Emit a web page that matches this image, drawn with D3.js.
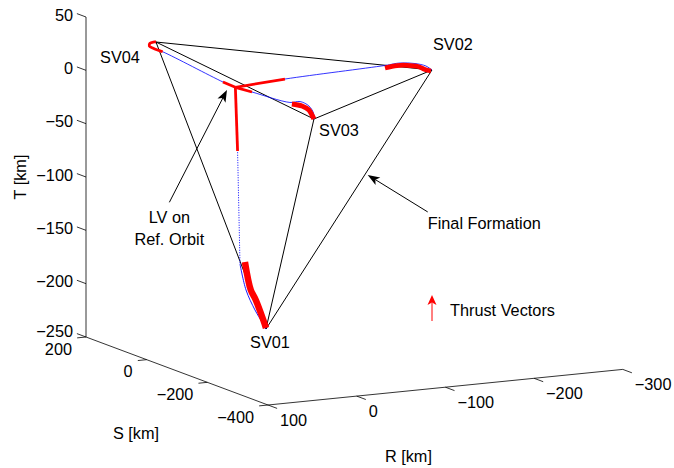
<!DOCTYPE html>
<html>
<head>
<meta charset="utf-8">
<script src="https://cdn.jsdelivr.net/npm/d3@7"></script>
<style>
  body { margin: 0; background: #fff; }
  text { font-family: "Liberation Sans", Arial, Helvetica, sans-serif; font-size: 16.3px; fill: #000; }
</style>
</head>
<body>
<svg id="chart" width="674" height="468"></svg>
<script>
// axis ticks
var rTicks = [100, 0, -100, -200, -300];
var sTicks = [200, 0, -200, -400];
var tTicks = [50, 0, -50, -100, -150, -200, -250];

// launch vehicle and final spacecraft positions, [R, S, T] in km
var lvPos = [0, 0, -3];
var svNames = ["SV01", "SV02", "SV03", "SV04"];
var svPos = [
  [-34.5, 0, -232.5],
  [-221.6, 0, -5.3],
  [-37.3, -150, -19.9],
  [38.2, 150, 26.7]
];

// transfer trajectories from the LV to each SV
var path01 = [[0, 0, -3], [-2.5, 0, -62.9], [-5.2, 0, -169.1], [-12.0, 0, -194.0],
  [-22.1, 0, -213.6], [-30.0, 0, -225.5], [-34.5, 0, -232.5]];
var path02 = [[0, 0, -3], [-55.9, 0, 0.1], [-168.7, 0, 3.4], [-185.5, 0, 4.3],
  [-202.5, 0, 2.4], [-214.9, 0, -1.0], [-221.6, 0, -5.3]];
var path03 = [[0, 0, -3], [-7.9, -31.7, -4.7], [-25.9, -104.2, -8.3], [-30.7, -123.3, -5.8],
  [-34.9, -140.5, -8.5], [-37.1, -149.0, -14.4], [-37.3, -150, -19.9]];
var path04 = [[0, 0, -3], [6.5, 22, 0.2], [34.1, 140, 18.3], [43.0, 145, 21.8],
  [46.8, 147, 24.0], [45.5, 148.5, 26.3], [41.4, 149.5, 27.0], [38.2, 150, 26.7]];

// thrust arcs (where the thrust vectors are drawn)
var thrust01a = [[0, 0, -3], [-2.5, 0, -62.9]];
var thrust01b = [[-10.8, 0, -167.6], [-17.4, 0, -194.5], [-23.0, 0, -204.3],
  [-31.5, 0, -223.8], [-34.5, 0, -231.5]];
var thrust02a = [[0, 0, -3], [-55.9, 0, 0.1]];
var thrust02b = [[-168.7, 0, 1.0], [-182.2, 0, 2.2], [-193.5, 0, 1.5],
  [-205.9, 0, -0.7], [-213.8, 0, -4.2], [-220.5, 0, -6.1]];
var thrust03a = [[0, 0, -3], [-7.9, -31.7, -4.7]];
var thrust03b = [[-26.8, -108, -9.4], [-31.7, -127, -9.7], [-34.9, -140.5, -12.3],
  [-36.6, -147.1, -17.3], [-37.3, -150, -19.9]];
var thrust04a = [[0, 0, -3], [6.5, 22, 0.2]];
var thrust04b = [[34.1, 140, 18.3], [43.0, 145, 21.8], [46.8, 147, 24.0],
  [45.5, 148.5, 26.3], [41.4, 149.5, 27.0], [38.2, 150, 26.7]];

var svg = d3.select("#chart");

// orthographic view: each data axis adds its own screen offset
var rx = d3.scaleLinear().domain([100, -300]).range([268, 622.8]);
var ry = d3.scaleLinear().domain([100, -300]).range([405, 369.4]);
var sx = d3.scaleLinear().domain([-400, 200]).range([0, -182]);
var sy = d3.scaleLinear().domain([-400, 200]).range([0, -68]);
var ty = d3.scaleLinear().domain([-250, 50]).range([0, -320]);

function proj(p) {
  return [rx(p[0]) + sx(p[1]), ry(p[0]) + sy(p[1]) + ty(p[2])];
}

var line3 = d3.line()
  .x(function (d) { return proj(d)[0]; })
  .y(function (d) { return proj(d)[1]; });

var curve3 = d3.line()
  .x(function (d) { return proj(d)[0]; })
  .y(function (d) { return proj(d)[1]; })
  .curve(d3.curveCatmullRom);

function seg(a, b, color, w) {
  return svg.append("path")
    .attr("d", line3([a, b]))
    .attr("fill", "none")
    .attr("stroke", color)
    .attr("stroke-width", w);
}

function minus(v) {
  return String(v).replace("-", "\u2212");
}

/**
 * Arrow with a notched filled head, screen coordinates.
 */
function arrow(tail, tip, color, len, half) {
  var dx = tip[0] - tail[0], dy = tip[1] - tail[1];
  var L = Math.sqrt(dx * dx + dy * dy);
  var ux = dx / L, uy = dy / L, px = -uy, py = ux;
  var bx = tip[0] - ux * len, by = tip[1] - uy * len;
  var nx = tip[0] - ux * len * 0.75, ny = tip[1] - uy * len * 0.75;
  svg.append("line")
    .attr("x1", tail[0]).attr("y1", tail[1])
    .attr("x2", nx).attr("y2", ny)
    .attr("stroke", color).attr("stroke-width", 1);
  svg.append("path")
    .attr("d", "M" + tip[0] + "," + tip[1] +
      "L" + (bx + px * half) + "," + (by + py * half) +
      "L" + nx + "," + ny +
      "L" + (bx - px * half) + "," + (by - py * half) + "Z")
    .attr("fill", color);
}

// axes
var axes = svg.append("g").attr("stroke", "#000").attr("stroke-width", 0.8).attr("fill", "none");
axes.append("path").attr("d", line3([[100, 200, -250], [100, 200, 50]]));
axes.append("path").attr("d", line3([[100, 200, -250], [100, -400, -250]]));
axes.append("path").attr("d", line3([[100, -400, -250], [-300, -400, -250]]));

tTicks.forEach(function (t) {
  axes.append("path").attr("d", line3([[100, 200, t], [100, 230, t]]));
  var p = proj([100, 200, t]);
  // lowest label sits a little higher so it clears the S-axis "200"
  var up = t === -250 ? 6 : 2;
  svg.append("text").attr("x", p[0] - 13).attr("y", p[1] - up).attr("dy", "0.35em")
    .attr("text-anchor", "end").text(minus(t));
});
sTicks.forEach(function (s) {
  axes.append("path").attr("d", line3([[100, s, -250], [110, s, -250]]));
  var p = proj([100, s, -250]);
  svg.append("text").attr("x", p[0] - 14).attr("y", p[1] + 12).attr("dy", "0.35em")
    .attr("text-anchor", "end").text(minus(s));
});
rTicks.forEach(function (r) {
  axes.append("path").attr("d", line3([[r, -400, -250], [r, -430, -250]]));
  var p = proj([r, -400, -250]);
  svg.append("text").attr("x", p[0] + 12).attr("y", p[1] + 15).attr("dy", "0.35em")
    .attr("text-anchor", "start").text(minus(r));
});

var tMid = proj([100, 200, -100]);
svg.append("text")
  .attr("transform", "translate(" + (tMid[0] - 65.5) + "," + tMid[1] + ") rotate(-90)")
  .attr("dy", "0.35em").attr("text-anchor", "middle").text("T [km]");
var sMid = proj([100, -100, -250]);
svg.append("text").attr("x", sMid[0] - 41).attr("y", sMid[1] + 62).attr("dy", "0.35em")
  .attr("text-anchor", "middle").text("S [km]");
var rMid = proj([-100, -400, -250]);
svg.append("text").attr("x", rMid[0] - 37).attr("y", rMid[1] + 69).attr("dy", "0.35em")
  .attr("text-anchor", "middle").text("R [km]");

// final formation: every pair of spacecraft joined
for (var i = 0; i < svPos.length; i++) {
  for (var j = i + 1; j < svPos.length; j++) {
    seg(svPos[i], svPos[j], "#000", 1);
  }
}

// trajectories
var blue = "#0000ff";
svg.append("path").attr("d", line3(path01.slice(0, 3)))
  .attr("fill", "none").attr("stroke", blue).attr("stroke-width", 1)
  .attr("stroke-dasharray", "1,1.5");
svg.append("path").attr("d", curve3(path01.slice(2)))
  .attr("fill", "none").attr("stroke", blue).attr("stroke-width", 0.9);
[path02, path03, path04].forEach(function (p) {
  svg.append("path").attr("d", curve3(p))
    .attr("fill", "none").attr("stroke", blue).attr("stroke-width", 0.8);
});

// thrust vectors
var thrusts = [
  [thrust01a, 2.8], [thrust01b, 6.5],
  [thrust02a, 2.8], [thrust02b, 4.8],
  [thrust03a, 2.8], [thrust03b, 5],
  [thrust04a, 2.8], [thrust04b, 2.8]
];
thrusts.forEach(function (t) {
  svg.append("path").attr("d", curve3(t[0]))
    .attr("fill", "none").attr("stroke", "#ff0000")
    .attr("stroke-width", t[1]).attr("stroke-linejoin", "round");
});

// spacecraft labels
var labelOff = { SV01: [4, 13], SV02: [21, -26], SV03: [25, 11], SV04: [-36, 15] };
svNames.forEach(function (n, k) {
  var p = proj(svPos[k]);
  svg.append("text").attr("x", p[0] + labelOff[n][0]).attr("y", p[1] + labelOff[n][1])
    .attr("dy", "0.35em").attr("text-anchor", "middle").text(n);
});

// annotations
var lv = proj(lvPos);
var lvTip = [lv[0] - 8.4, lv[1] + 2.7];
var lvTail = [lv[0] - 66, lv[1] + 115];
arrow(lvTail, lvTip, "#000", 12, 4.5);
svg.append("text").attr("x", lvTail[0]).attr("y", lvTail[1] + 15).attr("dy", "0.35em")
  .attr("text-anchor", "middle").text("LV on");
svg.append("text").attr("x", lvTail[0]).attr("y", lvTail[1] + 37).attr("dy", "0.35em")
  .attr("text-anchor", "middle").text("Ref. Orbit");

var a = proj(svPos[1]), b = proj(svPos[0]);
var f = 0.405;
var ffTip = [a[0] + (b[0] - a[0]) * f + 3, a[1] + (b[1] - a[1]) * f];
var ffTail = [ffTip[0] + 60, ffTip[1] + 37];
arrow(ffTail, ffTip, "#000", 12, 4.5);
svg.append("text").attr("x", ffTail[0]).attr("y", ffTail[1] + 11).attr("dy", "0.35em")
  .attr("text-anchor", "start").text("Final Formation");

// legend
arrow([432, 321], [432, 295], "#ff0000", 10, 4.5);
svg.append("text").attr("x", 450).attr("y", 310).attr("dy", "0.35em").text("Thrust Vectors");
</script>
</body>
</html>
